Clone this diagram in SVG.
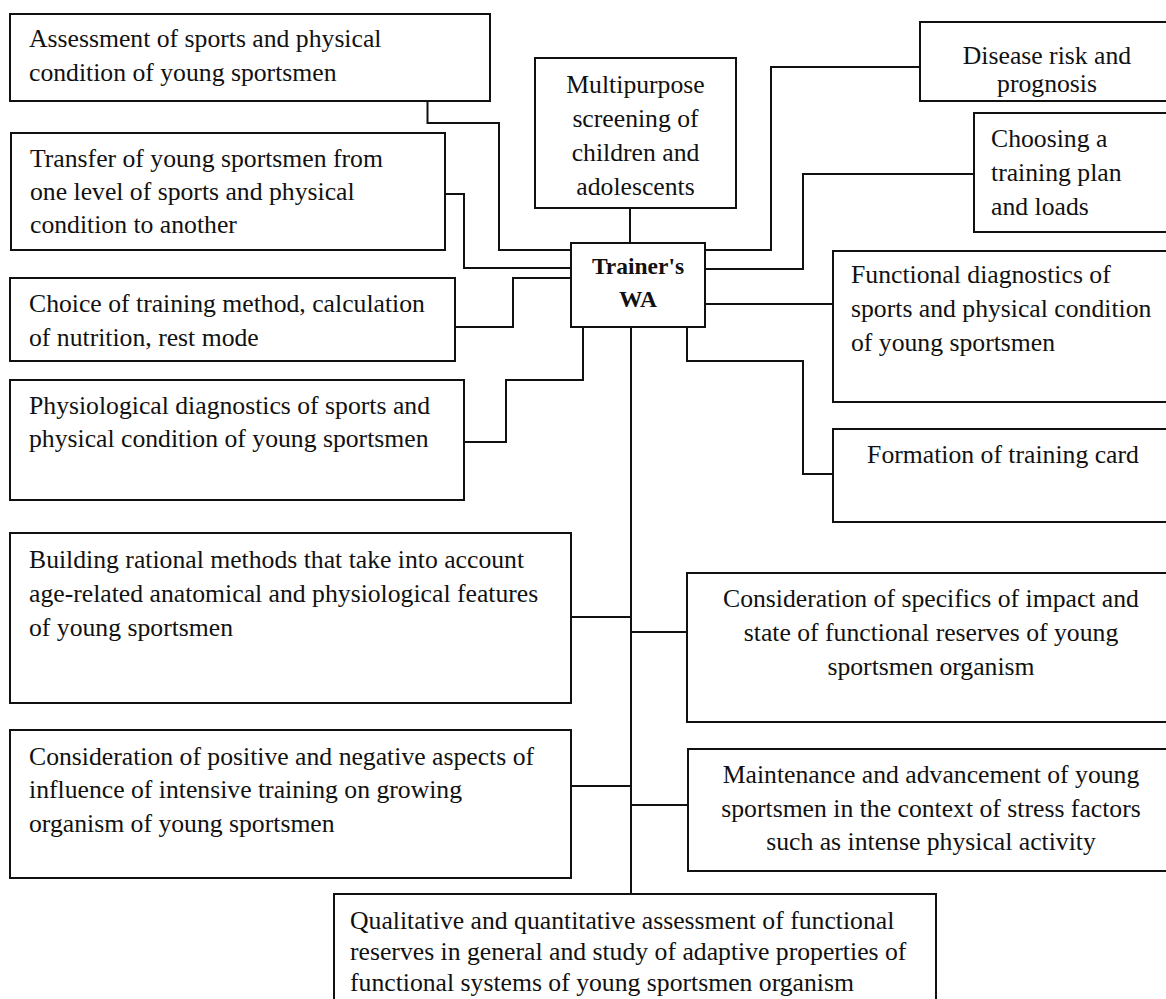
<svg xmlns="http://www.w3.org/2000/svg" width="1166" height="999" viewBox="0 0 1166 999">
<style>
  .box { fill: #ffffff; stroke: #111111; stroke-width: 2; }
  .t { font-family: "Liberation Serif", "Times New Roman", serif; font-size: 25.7px; fill: #111111; }
  .c { text-anchor: middle; }
  .b { font-weight: bold; font-size: 23.5px; }
  .conn { fill: none; stroke: #111111; stroke-width: 2; }
</style>
<rect x="0" y="0" width="1166" height="999" fill="#ffffff"/>
<g id="connectors" class="conn">
  <path d="M427.5,101 V123 H499 V250 H571"/>
  <path d="M445,194 H464 V268 H571"/>
  <path d="M455,327 H513 V278 H571"/>
  <path d="M464,442 H506 V380 H583 V327"/>
  <path d="M630,208 V243"/>
  <path d="M631,327 V894"/>
  <path d="M705,250 H771 V67 H920"/>
  <path d="M705,269 H803 V174 H974"/>
  <path d="M705,304 H833"/>
  <path d="M687,327 V361 H803 V474 H833"/>
  <path d="M571,617 H631"/>
  <path d="M631,632 H687"/>
  <path d="M571,786 H631"/>
  <path d="M631,805 H688"/>
</g>
<g id="node-assessment">
  <rect class="box" x="10" y="14" width="480" height="87"/>
  <text class="t" x="29" y="47">Assessment of sports and physical</text>
  <text class="t" x="29" y="81">condition of young sportsmen</text>
</g>
<g id="node-multipurpose">
  <rect class="box" x="535" y="58" width="201" height="150"/>
  <text class="t c" x="635.5" y="93">Multipurpose</text>
  <text class="t c" x="635.5" y="127">screening of</text>
  <text class="t c" x="635.5" y="161">children and</text>
  <text class="t c" x="635.5" y="195">adolescents</text>
</g>
<g id="node-disease">
  <rect class="box" x="920" y="22" width="260" height="79"/>
  <text class="t c" x="1047" y="64">Disease risk and</text>
  <text class="t c" x="1047" y="92">prognosis</text>
</g>
<g id="node-choosing">
  <rect class="box" x="974" y="113" width="206" height="119"/>
  <text class="t" x="991" y="147">Choosing a</text>
  <text class="t" x="991" y="181">training plan</text>
  <text class="t" x="991" y="215">and loads</text>
</g>
<g id="node-transfer">
  <rect class="box" x="11" y="133" width="434" height="117"/>
  <text class="t" x="30" y="167">Transfer of young sportsmen from</text>
  <text class="t" x="30" y="200">one level of sports and physical</text>
  <text class="t" x="30" y="233">condition to another</text>
</g>
<g id="node-trainer">
  <rect class="box" x="571" y="243" width="134" height="84"/>
  <text class="t b c" x="638" y="274">Trainer's</text>
  <text class="t b c" x="638" y="307">WA</text>
</g>
<g id="node-choice">
  <rect class="box" x="10" y="278" width="445" height="83"/>
  <text class="t" x="29" y="312">Choice of training method, calculation</text>
  <text class="t" x="29" y="346">of nutrition, rest mode</text>
</g>
<g id="node-functional">
  <rect class="box" x="833" y="251" width="347" height="151"/>
  <text class="t" x="851" y="283">Functional diagnostics of</text>
  <text class="t" x="851" y="317">sports and physical condition</text>
  <text class="t" x="851" y="351">of young sportsmen</text>
</g>
<g id="node-physiological">
  <rect class="box" x="10" y="380" width="454" height="120"/>
  <text class="t" x="29" y="414">Physiological diagnostics of sports and</text>
  <text class="t" x="29" y="447">physical condition of young sportsmen</text>
</g>
<g id="node-formation">
  <rect class="box" x="833" y="429" width="347" height="93"/>
  <text class="t c" x="1003" y="463">Formation of training card</text>
</g>
<g id="node-building">
  <rect class="box" x="10" y="533" width="561" height="170"/>
  <text class="t" x="29" y="568">Building rational methods that take into account</text>
  <text class="t" x="29" y="602">age-related anatomical and physiological features</text>
  <text class="t" x="29" y="636">of young sportsmen</text>
</g>
<g id="node-specifics">
  <rect class="box" x="687" y="573" width="493" height="149"/>
  <text class="t c" x="931" y="607">Consideration of specifics of impact and</text>
  <text class="t c" x="931" y="641">state of functional reserves of young</text>
  <text class="t c" x="931" y="675">sportsmen organism</text>
</g>
<g id="node-positive">
  <rect class="box" x="10" y="730" width="561" height="148"/>
  <text class="t" x="29" y="765">Consideration of positive and negative aspects of</text>
  <text class="t" x="29" y="798">influence of intensive training on growing</text>
  <text class="t" x="29" y="832">organism of young sportsmen</text>
</g>
<g id="node-maintenance">
  <rect class="box" x="688" y="749" width="492" height="122"/>
  <text class="t c" x="931" y="783">Maintenance and advancement of young</text>
  <text class="t c" x="931" y="817">sportsmen in the context of stress factors</text>
  <text class="t c" x="931" y="850">such as intense physical activity</text>
</g>
<g id="node-qualitative">
  <rect class="box" x="334" y="894" width="602" height="120"/>
  <text class="t" x="350" y="929">Qualitative and quantitative assessment of functional</text>
  <text class="t" x="350" y="960">reserves in general and study of adaptive properties of</text>
  <text class="t" x="350" y="991">functional systems of young sportsmen organism</text>
</g>
</svg>
